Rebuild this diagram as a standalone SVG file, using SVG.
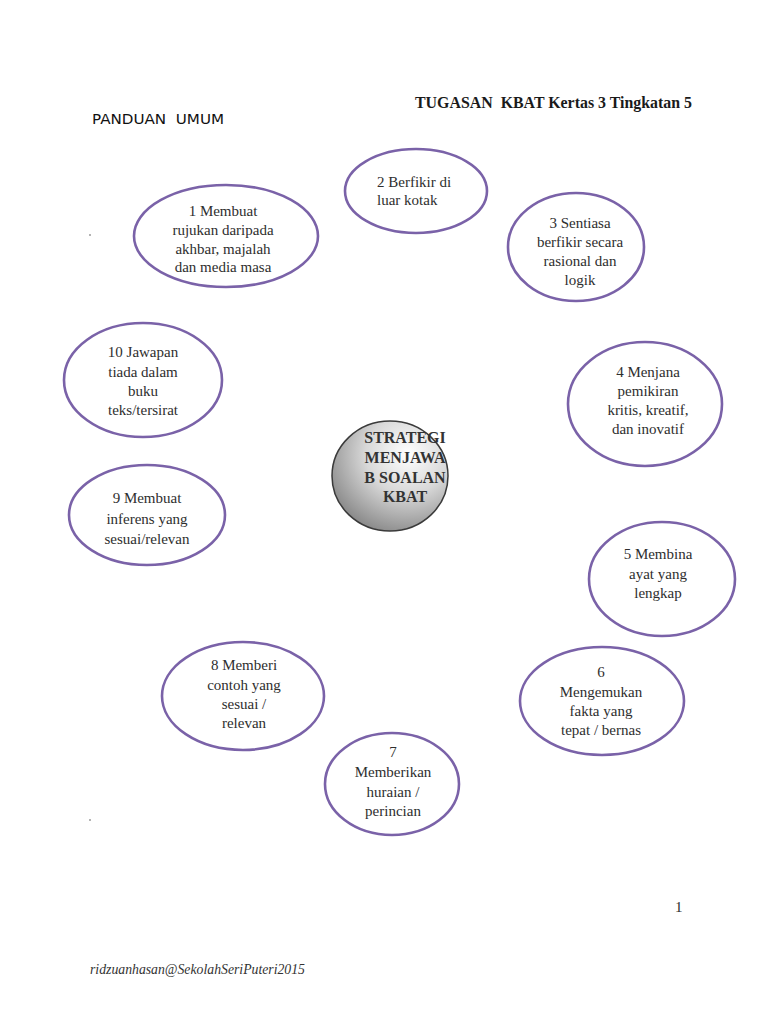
<svg xmlns="http://www.w3.org/2000/svg" width="768" height="1024" viewBox="0 0 768 1024">
<defs>
<radialGradient id="cg" cx="0.65" cy="0.3" r="0.8">
<stop offset="0" stop-color="#ffffff"/>
<stop offset="0.45" stop-color="#d8d8d8"/>
<stop offset="1" stop-color="#7f7f7f"/>
</radialGradient>
</defs>
<style>
.e{fill:#ffffff;stroke:#7a62a8;stroke-width:2.6}
.t{font-family:"Liberation Serif","Times New Roman",serif;font-size:15px;fill:#2e2e2e;text-anchor:middle}
.tl{font-family:"Liberation Serif","Times New Roman",serif;font-size:15px;fill:#2e2e2e}
.b{font-family:"Liberation Serif","Times New Roman",serif;font-size:16px;font-weight:bold;fill:#333;text-anchor:middle}
.pre{white-space:pre}
</style>
<rect width="768" height="1024" fill="#ffffff"/>
<text class="pre" x="415" y="108" font-family="'Liberation Serif','Times New Roman',serif" font-size="16.5" font-weight="bold" fill="#1a1a1a" textLength="277" lengthAdjust="spacingAndGlyphs">TUGASAN  KBAT Kertas 3 Tingkatan 5</text>
<text class="pre" x="92" y="124" font-family="'DejaVu Sans',Verdana,sans-serif" font-size="13.5" fill="#111" textLength="132" lengthAdjust="spacingAndGlyphs">PANDUAN  UMUM</text>
<circle cx="90" cy="235" r="0.8" fill="#555"/>
<circle cx="90" cy="820" r="0.8" fill="#555"/>
<g id="connectors"/>
<g id="n1"><ellipse class="e" cx="226" cy="236" rx="92" ry="51"/>
<text class="t"><tspan x="223" y="216">1 Membuat</tspan><tspan x="223" y="235">rujukan daripada</tspan><tspan x="223" y="254">akhbar, majalah</tspan><tspan x="223" y="272">dan media masa</tspan></text></g>
<g id="n2"><ellipse class="e" cx="416" cy="191" rx="71" ry="42"/>
<text class="tl"><tspan x="377" y="187">2 Berfikir di</tspan><tspan x="377" y="205">luar kotak</tspan></text></g>
<g id="n3"><ellipse class="e" cx="576" cy="247" rx="68" ry="54"/>
<text class="t"><tspan x="580" y="228">3 Sentiasa</tspan><tspan x="580" y="247">berfikir secara</tspan><tspan x="580" y="266">rasional dan</tspan><tspan x="580" y="285">logik</tspan></text></g>
<g id="n4"><ellipse class="e" cx="645" cy="404" rx="77" ry="62"/>
<text class="t"><tspan x="648" y="377">4 Menjana</tspan><tspan x="648" y="396">pemikiran</tspan><tspan x="648" y="415">kritis, kreatif,</tspan><tspan x="648" y="434">dan inovatif</tspan></text></g>
<g id="n10"><ellipse class="e" cx="143" cy="380" rx="79" ry="57"/>
<text class="t"><tspan x="143" y="357">10 Jawapan</tspan><tspan x="143" y="377">tiada dalam</tspan><tspan x="143" y="396">buku</tspan><tspan x="143" y="415">teks/tersirat</tspan></text></g>
<g id="center"><ellipse cx="390" cy="476" rx="58" ry="55" fill="url(#cg)" stroke="#3a3a3a" stroke-width="1.5"/>
<text class="b"><tspan x="405" y="443">STRATEGI</tspan><tspan x="405" y="463">MENJAWA</tspan><tspan x="405" y="483">B SOALAN</tspan><tspan x="405" y="502">KBAT</tspan></text></g>
<g id="n9"><ellipse class="e" cx="147" cy="515" rx="78" ry="50"/>
<text class="t"><tspan x="147" y="503">9 Membuat</tspan><tspan x="147" y="524">inferens yang</tspan><tspan x="147" y="544">sesuai/relevan</tspan></text></g>
<g id="n5"><ellipse class="e" cx="662" cy="579" rx="73" ry="57"/>
<text class="t"><tspan x="658" y="559">5 Membina</tspan><tspan x="658" y="579">ayat yang</tspan><tspan x="658" y="598">lengkap</tspan></text></g>
<g id="n8"><ellipse class="e" cx="243" cy="696" rx="81" ry="54"/>
<text class="t"><tspan x="244" y="670">8 Memberi</tspan><tspan x="244" y="690">contoh yang</tspan><tspan x="244" y="709">sesuai /</tspan><tspan x="244" y="728">relevan</tspan></text></g>
<g id="n6"><ellipse class="e" cx="602" cy="701" rx="82" ry="54"/>
<text class="t"><tspan x="601" y="677">6</tspan><tspan x="601" y="697">Mengemukan</tspan><tspan x="601" y="716">fakta yang</tspan><tspan x="601" y="735">tepat / bernas</tspan></text></g>
<g id="n7"><ellipse class="e" cx="392" cy="784" rx="67" ry="51"/>
<text class="t"><tspan x="393" y="757">7</tspan><tspan x="393" y="777">Memberikan</tspan><tspan x="393" y="797">huraian /</tspan><tspan x="393" y="816">perincian</tspan></text></g>
<text x="675" y="912" class="tl" font-size="14" fill="#111">1</text>
<text x="90" y="974" font-family="'Liberation Serif',serif" font-style="italic" font-size="14" fill="#333" textLength="215" lengthAdjust="spacingAndGlyphs">ridzuanhasan@SekolahSeriPuteri2015</text>
</svg>
